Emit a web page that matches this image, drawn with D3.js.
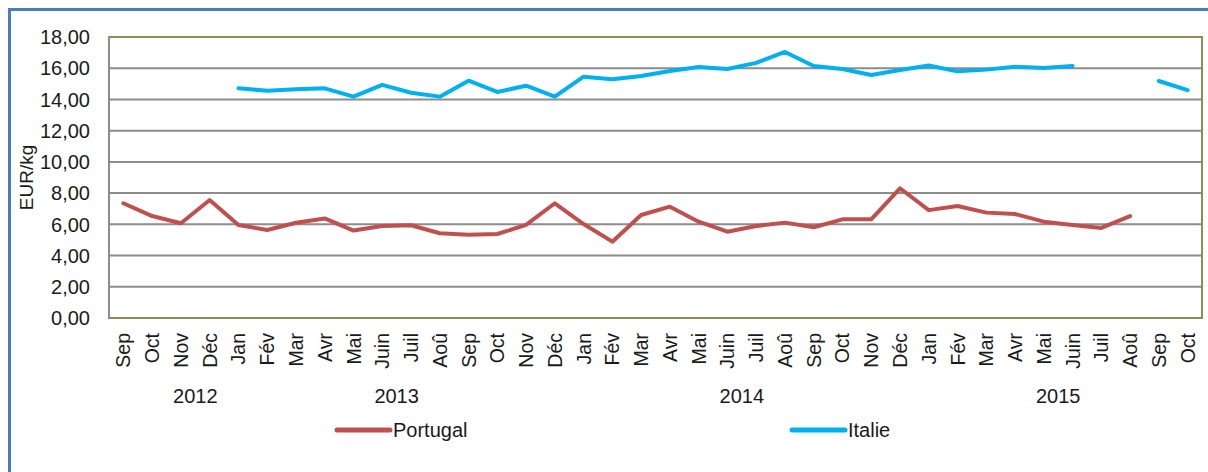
<!DOCTYPE html>
<html>
<head>
<meta charset="utf-8">
<script src="https://cdn.jsdelivr.net/npm/d3@7"></script>
<style>
  body { margin: 0; background: #fff; }
  text { font-family: "Liberation Sans", Arial, sans-serif; fill: #1a1a1a; }
</style>
</head>
<body>
<script>
// months Sep 2012 -> Oct 2015
var months = ["Sep","Oct","Nov","Déc",
  "Jan","Fév","Mar","Avr","Mai","Juin","Juil","Aoû","Sep","Oct","Nov","Déc",
  "Jan","Fév","Mar","Avr","Mai","Juin","Juil","Aoû","Sep","Oct","Nov","Déc",
  "Jan","Fév","Mar","Avr","Mai","Juin","Juil","Aoû","Sep","Oct"];

var years = ["2012","2013","2014","2015"];
var yearPos = [3, 10, 22, 33]; // position on the category axis (in months)

var portugal = [7.35,6.53,6.07,7.56,
  5.96,5.64,6.10,6.38,5.60,5.89,5.94,5.43,5.34,5.38,5.96,7.35,
  6.02,4.89,6.60,7.13,6.17,5.53,5.89,6.11,5.81,6.32,6.32,8.31,
  6.91,7.17,6.75,6.66,6.17,5.96,5.77,6.53,null,null];

var italie = [null,null,null,null,
  14.71,14.56,14.65,14.71,14.18,14.93,14.43,14.18,15.20,14.48,14.88,14.18,
  15.46,15.29,15.50,15.82,16.08,15.95,16.34,17.04,16.14,15.95,15.57,15.89,
  16.17,15.80,15.91,16.09,16.01,16.15,null,null,15.18,14.60];

var yTicks = [0,2,4,6,8,10,12,14,16,18];

var w = 1208, h = 472;
var plotL = 109, plotR = 1202, plotT = 37, plotB = 318;

var svg = d3.select("body").append("svg")
  .attr("width", w)
  .attr("height", h);

// outer frame (only top/left visible)
svg.append("rect")
  .attr("x", 9.5).attr("y", 9.5)
  .attr("width", w + 20).attr("height", h + 20)
  .attr("fill", "none")
  .attr("stroke", "#4a7ebb")
  .attr("stroke-width", 3);

var x = d3.scaleLinear().domain([0, months.length]).range([plotL, plotR]);
var y = d3.scaleLinear().domain([0, 18]).range([plotB, plotT]);

// gridlines
svg.selectAll(".grid")
  .data(yTicks.filter(function(d){ return d > 0 && d < 18; }))
  .enter().append("line")
  .attr("class", "grid")
  .attr("x1", plotL).attr("x2", plotR)
  .attr("y1", function(d){ return y(d); })
  .attr("y2", function(d){ return y(d); })
  .attr("stroke", "#8c8c8c")
  .attr("stroke-width", 2);

// plot border
svg.append("rect")
  .attr("x", plotL).attr("y", plotT)
  .attr("width", plotR - plotL).attr("height", plotB - plotT)
  .attr("fill", "none")
  .attr("stroke", "#948a54")
  .attr("stroke-width", 2);

// left axis line
svg.append("line")
  .attr("x1", plotL).attr("x2", plotL)
  .attr("y1", plotT).attr("y2", plotB)
  .attr("stroke", "#8c8c8c")
  .attr("stroke-width", 2);

// y axis labels
svg.selectAll(".ytick")
  .data(yTicks)
  .enter().append("text")
  .attr("class", "ytick")
  .attr("x", 90)
  .attr("y", function(d){ return y(d); })
  .attr("dy", "0.36em")
  .attr("text-anchor", "end")
  .style("font-size", "20px")
  .text(function(d){ return d3.format(".2f")(d).replace(".", ","); });

svg.append("text")
  .attr("transform", "translate(33," + ((plotT + plotB) / 2) + ") rotate(-90)")
  .attr("text-anchor", "middle")
  .style("font-size", "19px")
  .text("EUR/kg");

// month labels
svg.selectAll(".xtick")
  .data(months)
  .enter().append("text")
  .attr("class", "xtick")
  .attr("transform", function(d, i){
    return "translate(" + x(i + 0.5) + ",333) rotate(-90)";
  })
  .attr("dy", "0.36em")
  .attr("text-anchor", "end")
  .style("font-size", "19.5px")
  .text(function(d){ return d; });

// year labels
svg.selectAll(".year")
  .data(years)
  .enter().append("text")
  .attr("class", "year")
  .attr("x", function(d, i){ return x(yearPos[i]); })
  .attr("y", 403)
  .attr("text-anchor", "middle")
  .style("font-size", "20px")
  .text(function(d){ return d; });

// series lines
var line = d3.line()
  .defined(function(d){ return d != null; })
  .x(function(d, i){ return x(i + 0.5); })
  .y(function(d){ return y(d); });

var series = [
  {name: "Portugal", values: portugal, color: "#c0504d", lx: 337},
  {name: "Italie", values: italie, color: "#00b0f0", lx: 792}
];

svg.selectAll(".series")
  .data(series)
  .enter().append("path")
  .attr("class", "series")
  .attr("d", function(d){ return line(d.values); })
  .attr("fill", "none")
  .attr("stroke", function(d){ return d.color; })
  .attr("stroke-width", 4)
  .attr("stroke-linejoin", "round")
  .attr("stroke-linecap", "round");

// legend
var leg = svg.selectAll(".legend")
  .data(series)
  .enter().append("g")
  .attr("class", "legend")
  .attr("transform", function(d){ return "translate(" + d.lx + ",430)"; });

leg.append("line")
  .attr("x1", 0).attr("x2", 53)
  .attr("stroke", function(d){ return d.color; })
  .attr("stroke-width", 5)
  .attr("stroke-linecap", "round");

leg.append("text")
  .attr("x", 56)
  .attr("dy", "0.36em")
  .style("font-size", "20px")
  .text(function(d){ return d.name; });
</script>
</body>
</html>
